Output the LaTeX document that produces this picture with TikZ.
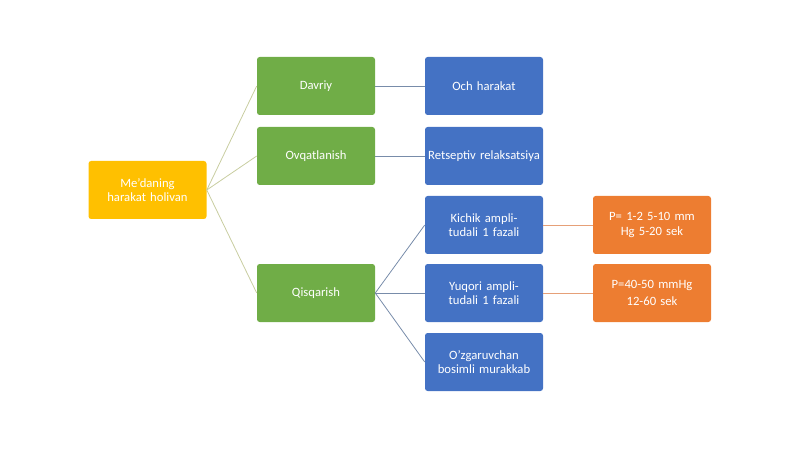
\documentclass[tikz,border=0pt]{standalone}
\usepackage{fontspec}
\setmainfont{Carlito}
\begin{document}
\begin{tikzpicture}[x=0.75pt,y=-0.75pt,
box/.style={rounded corners=2pt,minimum width=88.5pt,minimum height=43.5pt,text width=84pt,align=center,text=white,font=\fontsize{9.5}{11}\selectfont,inner sep=1pt},
Y/.style={box,fill={rgb,255:red,255;green,192;blue,0}},
G/.style={box,fill={rgb,255:red,112;green,173;blue,71}},
B/.style={box,fill={rgb,255:red,68;green,114;blue,196}},
O/.style={box,fill={rgb,255:red,237;green,125;blue,49}},
l1/.style={draw={rgb,255:red,200;green,205;blue,160},line width=0.6pt},
l2/.style={draw={rgb,255:red,120;green,140;blue,170},line width=0.6pt},
l3/.style={draw={rgb,255:red,230;green,160;blue,120},line width=0.6pt}]
\useasboundingbox (0,0) rectangle (800,449);
\node[Y] (r) at (147.5,190) {Me'daning harakat holivan};
\node[G] (g1) at (316,86) {Davriy};
\node[G] (g2) at (316,156) {Ovqatlanish};
\node[G] (g3) at (316,293) {Qisqarish};
\node[B] (b1) at (484,86) {Och harakat};
\node[B] (b2) at (484,156) {Retseptiv relaksatsiya};
\node[B] (b3) at (484,225) {Kichik amplitudali 1 fazali};
\node[B] (b4) at (484,293) {Yuqori amplitudali 1 fazali};
\node[B] (b5) at (484,362) {O'zgaruvchan bosimli murakkab};
\node[O] (o1) at (652,225) {P= 1-2 5-10 mm Hg 5-20 sek};
\node[O] (o2) at (652,293) {P=40-50 mmHg\\[2pt] 12-60 sek};
\foreach \g in {g1,g2,g3} \draw[l1] (r.east) -- (\g.west);
\draw[l2] (g1.east) -- (b1.west);
\draw[l2] (g2.east) -- (b2.west);
\foreach \b in {b3,b4,b5} \draw[l2] (g3.east) -- (\b.west);
\draw[l3] (b3.east) -- (o1.west);
\draw[l3] (b4.east) -- (o2.west);
\end{tikzpicture}
\end{document}
